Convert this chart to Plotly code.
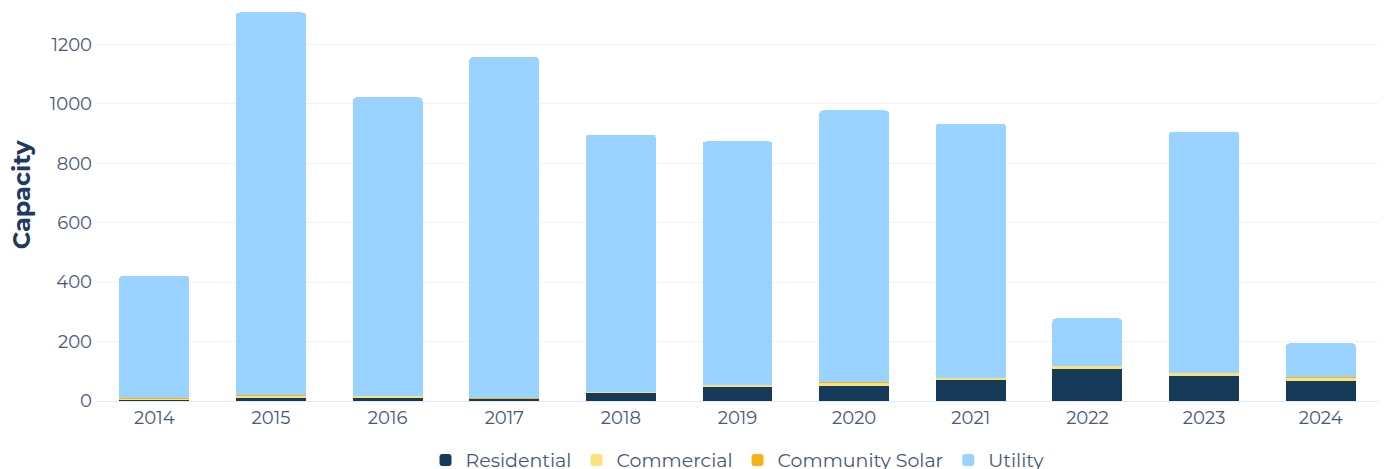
import plotly.graph_objects as go

years = ["2014", "2015", "2016", "2017", "2018", "2019", "2020", "2021", "2022", "2023", "2024"]
residential = [5, 9, 9, 8, 27, 46, 52, 71, 108, 83, 67]
commercial = [4, 11, 8, 1, 4, 8, 11, 7, 11, 12, 13]
community_solar = [0.2, 0.2, 0.2, 0.2, 0.2, 0.3, 0.3, 0.3, 0.3, 0.3, 0.3]
utility = [412.8, 1287.8, 1004.8, 1147.8, 865.8, 819.7, 914.7, 855.7, 158.7, 811.7, 113.7]

series = [
    ("Residential", residential, "#163A5A"),
    ("Commercial", commercial, "#FBE27C"),
    ("Community Solar", community_solar, "#F6B21B"),
    ("Utility", utility, "#9AD3FF"),
]

fig = go.Figure()
for name, vals, color in series:
    fig.add_trace(go.Bar(x=years, y=vals, name=name, marker=dict(color=color, line=dict(width=0))))

font_family = "Montserrat, 'Open Sans', sans-serif"
fig.update_layout(
    barmode="stack",
    bargap=0.4,
    barcornerradius=4,
    width=1386,
    height=469,
    margin=dict(l=88, r=15, t=0, b=76, autoexpand=False),
    paper_bgcolor="white",
    plot_bgcolor="white",
    font=dict(family=font_family, color="#4A5878", size=18),
    showlegend=True,
    legend=dict(orientation="h", x=0.5, xanchor="center", y=-0.102, yanchor="top",
                font=dict(size=19, color="#4A5878"), traceorder="normal"),
    xaxis=dict(showgrid=False, showline=True, linecolor="#E3E9F3", linewidth=1,
               ticks="", tickfont=dict(size=18, color="#4A5878")),
    yaxis=dict(range=[0, 1323], tickvals=[0, 200, 400, 600, 800, 1000, 1200],
               showgrid=True, gridcolor="#F0F2F8", gridwidth=1, zeroline=False,
               tickfont=dict(size=18, color="#4A5878"), ticks="", ticklabelstandoff=3),
    annotations=[dict(text="<b>Capacity</b>", textangle=-90, xref="paper", yref="paper",
                      x=-0.0581, y=0.527, xanchor="center", yanchor="middle", showarrow=False,
                      font=dict(size=24, color="#1E3A5F"))],
)

fig.write_html("out.html")
